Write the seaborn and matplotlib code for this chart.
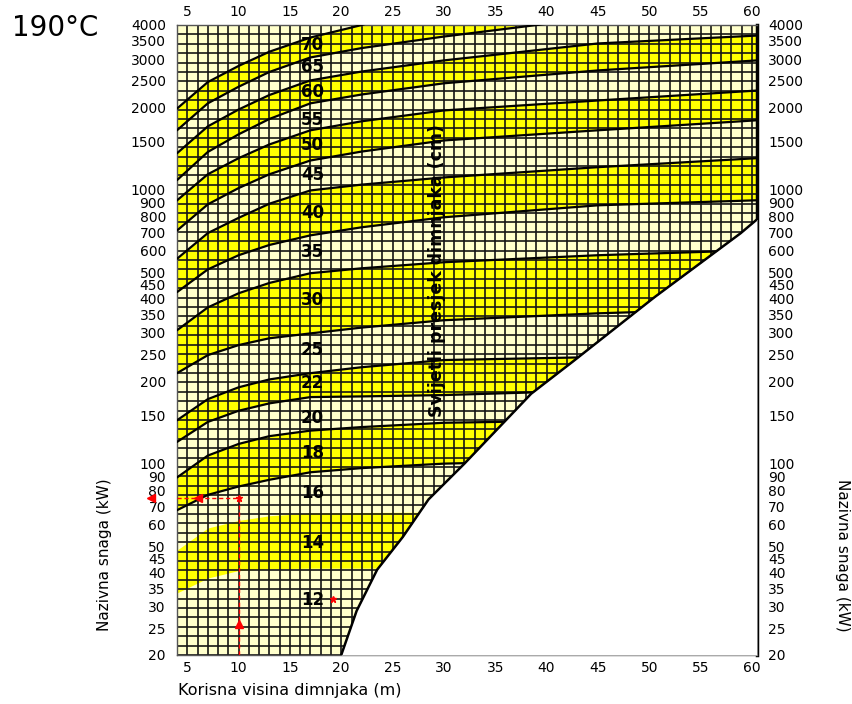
import matplotlib
matplotlib.use('Agg')
import matplotlib.pyplot as plt
import pandas as pd
import seaborn as sns
import numpy as np
from matplotlib.ticker import FixedLocator, FixedFormatter, NullLocator

sns.set_style('white')
plt.rcParams['font.family'] = ['DejaVu Sans']
plt.rcParams['text.color'] = 'black'
plt.rcParams['xtick.color'] = 'black'
plt.rcParams['ytick.color'] = 'black'
plt.rcParams['axes.labelcolor'] = 'black'

# chimney height (m) where the band edges were read
heights = [4, 7, 10, 13, 17, 22, 30, 45, 60.5]

# band edges (kW), top edge of the 70 cm band down to the 14/12 edge
b_top70 = [1980, 2475, 2835, 3195, 3600, 4000, 5000, 6000, 7000]
b_70_65 = [1650, 2070, 2380, 2695, 3045, 3295, 3630, 4265, 4700]
b_65_60 = [1360, 1705, 1965, 2220, 2510, 2705, 2970, 3425, 3660]
b_60_55 = [1085, 1375, 1595, 1815, 2070, 2230, 2450, 2730, 2970]
b_55_50 = [915, 1140, 1305, 1465, 1650, 1780, 1950, 2120, 2305]
b_50_45 = [710, 885, 1015, 1140, 1280, 1380, 1515, 1650, 1795]
b_45_40 = [560, 695, 790, 890, 995, 1045, 1110, 1210, 1305]
b_40_35 = [423, 512, 577, 629, 682, 730, 794, 878, 916]
b_35_30 = [307, 372, 419, 457, 496, 517, 544, 577, 602]
b_30_25 = [214, 249, 271, 287, 299, 314, 334, 354, 369]
b_25_22 = [144, 172, 190, 203, 214, 225, 239, 245, 249]
b_22_20 = [120, 142, 156, 166, 175, 176, 178, 185, 189]
b_20_18 = [89, 107, 118, 126, 132, 136, 141, 144, 147]
b_18_16 = [67.6, 76.9, 82.5, 87.3, 93, 96.3, 100, 103, 105]
b_16_14 = [48.3, 58.2, 62, 64.5, 66, 66.3, 66.5, 67, 67.6]
b_14_12 = [33.7, 38.2, 40.7, 41.3, 41.5, 41.5, 41.5, 41.5, 41.5]

edges = [b_top70, b_70_65, b_65_60, b_60_55, b_55_50, b_50_45, b_45_40,
         b_40_35, b_35_30, b_30_25, b_25_22, b_22_20, b_20_18, b_18_16,
         b_16_14, b_14_12]

diameters = [70, 65, 60, 55, 50, 45, 40, 35, 30, 25, 22, 20, 18, 16, 14, 12]
label_power = [3370, 2820, 2270, 1794, 1453, 1130, 820, 591, 395, 260, 197,
               147, 109, 78, 51.3, 31.7]

# lower right limit of the chart (white area)
limit_h = [20, 21.5, 23.5, 26, 28.5, 32, 38.5, 42.5, 50.5, 58.9, 60.5]
limit_p = [20, 29, 41, 54, 74, 100, 180, 235, 405, 694, 780]

y_ticks = [20, 25, 30, 35, 40, 45, 50, 60, 70, 80, 90, 100, 150, 200, 250,
           300, 350, 400, 450, 500, 600, 700, 800, 900, 1000, 1500, 2000,
           2500, 3000, 3500, 4000]
x_ticks = [5, 10, 15, 20, 25, 30, 35, 40, 45, 50, 55, 60]

# example reading
ex_h = 10
ex_p = 75

yellow = '#FFFF00'
cream = '#FFFFCC'

fig = plt.figure(figsize=(8.53, 7.04), dpi=100)
ax = fig.add_axes([177 / 853, 49 / 704, 580 / 853, 630 / 704])
ax.set_facecolor(cream)
ax.set_yscale('log')
ax.set_xlim(4, 60.5)
ax.set_ylim(20, 4000)

for i, d in enumerate(diameters):
    top = edges[i]
    low = edges[i + 1] if i + 1 < len(edges) else [20] * len(heights)
    if i % 2 == 0:
        ax.fill_between(heights, low, top, color=yellow, lw=0, zorder=1)

# fine grid
ax.vlines(np.arange(4, 61), 20, 4000, color='#151515', lw=1.2, zorder=2)
ax.hlines(np.geomspace(20, 4000, 68), 4, 60.5, color='#151515', lw=1.2, zorder=2)

df = pd.DataFrame({'h': heights})
for i, e in enumerate(edges[:14]):
    df['p'] = e
    sns.lineplot(data=df, x='h', y='p', color='black', lw=1.6, ax=ax,
                 estimator=None, zorder=3)

ax.fill_betweenx(limit_p, limit_h, 60.5, color='white', lw=0, zorder=4)
ax.plot(limit_h, limit_p, color='black', lw=1.8, zorder=5)

for d, p in zip(diameters, label_power):
    ax.text(17.2, p, str(d), ha='center', va='center', fontsize=12,
            fontweight='bold', color='black', zorder=6)

ax.text(29.3, 508, 'Svijetli presjek dimnjaka (cm)', rotation=90,
        ha='center', va='center', fontsize=12.5, fontweight='bold',
        color='black', zorder=6)

# red example lines
ax.plot([ex_h, ex_h], [20, ex_p], color='red', ls=(0, (3, 2)), lw=1, zorder=7)
ax.plot([4, ex_h], [ex_p, ex_p], color='red', ls=(0, (3, 2)), lw=1, zorder=7)
ax.plot([ex_h], [26], marker='^', color='red', ms=6, zorder=8)
ax.plot([6], [ex_p], marker='<', color='red', ms=6, zorder=8)
ax.plot([1.5], [ex_p], marker='<', color='red', ms=6, zorder=8, clip_on=False)
ax.plot([ex_h], [ex_p], marker='*', color='red', ms=5, zorder=8)
ax.plot([19.2], [32], marker='*', color='red', ms=5, zorder=8)

ax.set_xlabel('')
ax.set_ylabel('')
ax.set_xticks(x_ticks)
ax.set_xticklabels([str(v) for v in x_ticks])
ax.yaxis.set_major_locator(FixedLocator(y_ticks))
ax.yaxis.set_major_formatter(FixedFormatter([str(v) for v in y_ticks]))
ax.yaxis.set_minor_locator(NullLocator())
ax.tick_params(axis='x', length=0, labeltop=True, labelbottom=True,
               labelsize=10, pad=4, labelcolor='black')
ax.tick_params(axis='y', length=0, labelleft=True, labelright=True,
               labelsize=10, pad=8, labelcolor='black')

for s in ['left', 'top', 'bottom']:
    ax.spines[s].set_color('#555555')
    ax.spines[s].set_linewidth(1)
ax.spines['right'].set_color('black')
ax.spines['right'].set_linewidth(2.5)

fig.text(12 / 853, 1 - 28 / 704, '190°C', fontsize=20, ha='left',
         va='center', color='black')
fig.text(105 / 853, 1 - 555 / 704, 'Nazivna snaga (kW)', rotation=90,
         fontsize=11, ha='center', va='center', color='black')
fig.text(843 / 853, 1 - 555 / 704, 'Nazivna snaga (kW)', rotation=270,
         fontsize=11, ha='center', va='center', color='black')
fig.text(178 / 853, 1 - 690 / 704, 'Korisna visina dimnjaka (m)',
         fontsize=11.5, ha='left', va='center', color='black')

fig.savefig('out.png', dpi=100)
